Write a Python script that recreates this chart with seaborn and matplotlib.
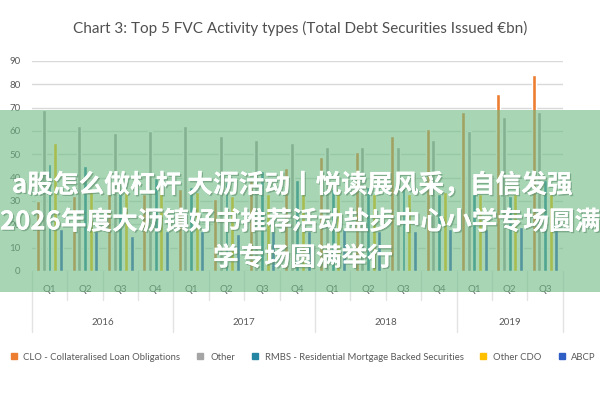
import numpy as np
import pandas as pd
import seaborn as sns
import matplotlib.pyplot as plt
from matplotlib.patches import Rectangle
from matplotlib.lines import Line2D
import matplotlib.patheffects as pe

years = ["2016", "2017", "2018", "2019"]
quarters = ["2016 Q1", "2016 Q2", "2016 Q3", "2016 Q4",
            "2017 Q1", "2017 Q2", "2017 Q3", "2017 Q4",
            "2018 Q1", "2018 Q2", "2018 Q3", "2018 Q4",
            "2019 Q1", "2019 Q2", "2019 Q3"]
q_labels = ["Q1", "Q2", "Q3", "Q4"] * 3 + ["Q1", "Q2", "Q3"]

series = ["CLO - Collateralised Loan Obligations", "Other",
          "RMBS - Residential Mortgage Backed Securities", "Other CDO", "ABCP"]
clo = [30, 32, 33, 33, 35, 31, 39, 44, 49, 51, 58, 61, 68, 76, 84]
other = [69, 62, 59, 60, 62, 58, 56, 55, 53, 53, 53, 56, 60, 66, 68]
rmbs = [46, 45, 35, 40, 36, 38, 43, 39, 35, 36, 37, 33, 33, 32, 39]
other_cdo = [55, 35, 35, 38, 34, 32, 33, 34, 35, 33, 33, 34, 33, 33, 33]
abcp = [18, 17, 15, 17, 17, 16, 17, 17, 18, 17, 17, 18, 18, 19, 18]
colors = ["#ED7D31", "#A5A5A5", "#2486A3", "#FFC000", "#2F5EC4"]

rows = []
for name, vals in zip(series, [clo, other, rmbs, other_cdo, abcp]):
    for q, v in zip(quarters, vals):
        rows.append({"quarter": q, "series": name, "value": v})
df = pd.DataFrame(rows)

sns.set_theme(style="white")
narrow = ["Lato", "DejaVu Sans"]
cjk = ["Noto Sans CJK SC", "DejaVu Sans"]
grey = "#595959"

fig = plt.figure(figsize=(6, 4), dpi=100)
ax = fig.add_axes([0.053, 0.3225, 0.885, 0.525])

sns.barplot(data=df, x="quarter", y="value", hue="series", order=quarters,
            hue_order=series, palette=colors, width=0.8, gap=0.3,
            saturation=1, legend=False, ax=ax)

ax.set_ylim(0, 90)
ax.set_xlim(-0.5, len(quarters) - 0.5)
ax.set_yticks(range(0, 91, 10))
ax.yaxis.grid(True, color="#d9d9d9", linewidth=1)
ax.set_axisbelow(True)
for s in ax.spines.values():
    s.set_visible(False)
ax.set_xlabel("")
ax.set_ylabel("")
ax.tick_params(axis="y", length=0, labelsize=7, labelcolor=grey, pad=8)
ax.set_yticklabels([str(v) for v in range(0, 91, 10)], family=narrow)
ax.set_xticks(range(len(quarters)))
ax.set_xticklabels(q_labels, family=narrow, fontsize=7, color=grey)
ax.tick_params(axis="x", length=0, pad=10)

# category separators
tr = ax.get_xaxis_transform()
for i in range(len(quarters) + 1):
    depth = -0.29 if i % 4 == 0 or i == len(quarters) else -0.14
    ax.plot([i - 0.5, i - 0.5], [0, depth], color="#e3e3e3", lw=1,
            transform=tr, clip_on=False)
for k, yr in enumerate(years):
    start = 4 * k
    end = min(4 * k + 3, len(quarters) - 1)
    ax.text((start + end) / 2, -0.245, yr, transform=tr, ha="center",
            va="center", fontsize=7, color=grey, family=narrow)

fig.text(0.5, 0.93, "Chart 3: Top 5 FVC Activity types (Total Debt Securities Issued €bn)",
         ha="center", va="center", fontsize=11, color="#505050", family=narrow)

handles = [Line2D([], [], marker="s", linestyle="none", markersize=4.5,
                  markerfacecolor=c, markeredgecolor=c) for c in colors]
fig.legend(handles, series, loc="center", bbox_to_anchor=(0.5, 0.107), ncol=5,
           frameon=False, handletextpad=0.05, columnspacing=1.1,
           prop={"family": narrow, "size": 6.8}, labelcolor=grey)

# overlay banner
fig.add_artist(Rectangle((0, 0.27), 1, 0.455, transform=fig.transFigure,
                         facecolor="#6ebb85", alpha=0.6, edgecolor="none", zorder=10))
shadow = [pe.withSimplePatchShadow(offset=(1, -1), shadow_rgbFace="#5f8f6c", alpha=0.6), pe.Normal()]
banner = ["a股怎么做杠杆 大沥活动丨悦读展风采，自信发强",
          "2026年度大沥镇好书推荐活动盐步中心小学专场圆满",
          "学专场圆满举行"]
for (bx, by), txt in zip([(0.02, 0.537), (0.0, 0.445), (0.355, 0.355)], banner):
    fig.text(bx, by, txt, ha="left", va="center", fontsize=18.5, color="white",
             fontweight="bold", family=cjk, zorder=11, path_effects=shadow)

fig.savefig("out.png", dpi=100)
